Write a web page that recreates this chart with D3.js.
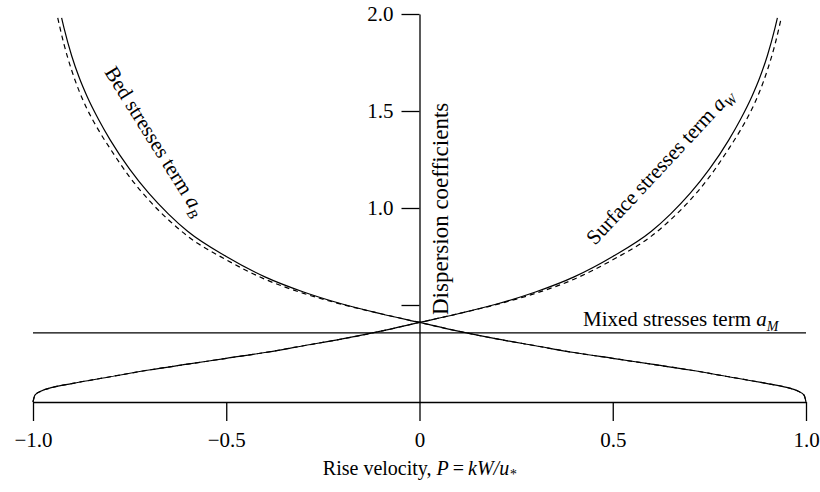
<!DOCTYPE html>
<html>
<head>
<meta charset="utf-8">
<script src="https://cdn.jsdelivr.net/npm/d3@7"></script>
<style>
  body { margin: 0; background: #fff; }
  svg { display: block; font-family: "Liberation Serif", "DejaVu Serif", serif; }
</style>
</head>
<body>
<div id="chart"></div>
<script>
// values
var surfP     = [-1, -0.995, -0.98, -0.95, -0.9, -0.8, -0.7, -0.6, -0.5, -0.4, -0.3, -0.2, -0.1, 0, 0.1, 0.2, 0.3, 0.4, 0.5, 0.6, 0.65, 0.7, 0.75, 0.8, 0.83, 0.86, 0.88, 0.9, 0.92, 0.926];
var surfSolid = [0, 0.035, 0.055, 0.075, 0.095, 0.13, 0.165, 0.195, 0.225, 0.255, 0.29, 0.325, 0.365, 0.41, 0.455, 0.505, 0.567, 0.645, 0.75, 0.88, 0.97, 1.075, 1.2, 1.35, 1.455, 1.575, 1.67, 1.785, 1.93, 1.98];
var surfDashP = [-1, -0.995, -0.98, -0.95, -0.9, -0.8, -0.7, -0.6, -0.5, -0.4, -0.3, -0.2, -0.1, 0, 0.1, 0.2, 0.3, 0.4, 0.5, 0.6, 0.65, 0.7, 0.75, 0.8, 0.83, 0.86, 0.88, 0.9, 0.92, 0.936];
var surfDash  = [0, 0.035, 0.055, 0.075, 0.095, 0.13, 0.165, 0.195, 0.225, 0.255, 0.29, 0.325, 0.365, 0.41, 0.455, 0.503, 0.56, 0.633, 0.733, 0.855, 0.94, 1.04, 1.16, 1.305, 1.4, 1.51, 1.6, 1.71, 1.845, 1.98];

var bedP      = [-0.926, -0.92, -0.9, -0.88, -0.86, -0.83, -0.8, -0.75, -0.7, -0.65, -0.6, -0.5, -0.4, -0.3, -0.2, -0.1, 0, 0.1, 0.2, 0.3, 0.4, 0.5, 0.6, 0.7, 0.8, 0.9, 0.95, 0.98, 0.995, 1];
var bedSolid  = [1.98, 1.93, 1.785, 1.67, 1.575, 1.455, 1.35, 1.2, 1.075, 0.97, 0.88, 0.75, 0.645, 0.567, 0.505, 0.455, 0.41, 0.365, 0.325, 0.29, 0.255, 0.225, 0.195, 0.165, 0.13, 0.095, 0.075, 0.055, 0.035, 0];
var bedDashP  = [-0.936, -0.92, -0.9, -0.88, -0.86, -0.83, -0.8, -0.75, -0.7, -0.65, -0.6, -0.5, -0.4, -0.3, -0.2, -0.1, 0, 0.1, 0.2, 0.3, 0.4, 0.5, 0.6, 0.7, 0.8, 0.9, 0.95, 0.98, 0.995, 1];
var bedDash   = [1.98, 1.845, 1.71, 1.6, 1.51, 1.4, 1.305, 1.16, 1.04, 0.94, 0.855, 0.733, 0.633, 0.56, 0.503, 0.455, 0.41, 0.365, 0.325, 0.29, 0.255, 0.225, 0.195, 0.165, 0.13, 0.095, 0.075, 0.055, 0.035, 0];

var mixedP = [-1, 1];
var mixedValue = [0.356, 0.356];

var xTicks = [-1, -0.5, 0, 0.5, 1];
var xTickLabels = ["\u22121.0", "\u22120.5", "0", "0.5", "1.0"];
var yTicks = [0.5, 1, 1.5, 2];
var yTickLabels = ["", "1.0", "1.5", "2.0"];

var width = 820, height = 492;

var svg = d3.select('#chart').append('svg')
  .attr('width', width)
  .attr('height', height);

var x = d3.scaleLinear().domain([-1, 1]).range([33, 806]);
var y = d3.scaleLinear().domain([0, 2]).range([402, 14]);

function pairs(xs, ys) {
  return xs.map(function(v, i) { return [v, ys[i]]; });
}

var line = d3.line()
  .x(function(d) { return x(d[0]); })
  .y(function(d) { return y(d[1]); })
  .curve(d3.curveMonotoneX);

// x axis (drawn at y = 0)
var xAxis = d3.axisBottom(x)
  .tickValues(xTicks)
  .tickSize(19)
  .tickSizeOuter(0)
  .tickPadding(5)
  .tickFormat(function(d, i) { return xTickLabels[i]; });

var gx = svg.append('g')
  .attr('transform', 'translate(0,' + y(0) + ')')
  .call(xAxis);

// y axis through P = 0
var yAxis = d3.axisLeft(y)
  .tickValues(yTicks)
  .tickSize(18)
  .tickSizeOuter(0)
  .tickPadding(8)
  .tickFormat(function(d, i) { return yTickLabels[i]; });

var gy = svg.append('g')
  .attr('transform', 'translate(' + x(0) + ',0)')
  .call(yAxis);

svg.selectAll('.domain, .tick line')
  .attr('stroke', '#000')
  .attr('stroke-width', 1.3);
svg.selectAll('.tick text')
  .attr('fill', '#000')
  .style('font-size', '21px')
  .style('font-family', '"Liberation Serif", serif');
gx.selectAll('.tick text').attr('dy', '1em');
gy.selectAll('.tick text').attr('dy', '0.32em');

// curves
var curves = [
  {data: pairs(surfP, surfSolid), dash: null},
  {data: pairs(surfDashP, surfDash), dash: '5,4'},
  {data: pairs(bedP, bedSolid), dash: null},
  {data: pairs(bedDashP, bedDash), dash: '5,4'},
  {data: pairs(mixedP, mixedValue), dash: null}
];

svg.selectAll('.curve')
  .data(curves)
  .enter()
  .append('path')
  .attr('class', 'curve')
  .attr('d', function(d) { return line(d.data); })
  .attr('fill', 'none')
  .attr('stroke', '#000')
  .attr('stroke-width', 1.2)
  .attr('stroke-dasharray', function(d) { return d.dash; });

// labels
function termLabel(g, text, sub) {
  var t = g.append('text').style('font-size', '21px');
  t.append('tspan').text(text + ' ');
  t.append('tspan').style('font-style', 'italic').text('a');
  t.append('tspan').attr('dy', 5).style('font-size', '14px').style('font-style', 'italic').text(sub);
  return t;
}

termLabel(svg.append('g').attr('transform', 'translate(104,72) rotate(58)'), 'Bed stresses term', 'B');
termLabel(svg.append('g').attr('transform', 'translate(595,246) rotate(-47)'), 'Surface stresses term', 'W');
termLabel(svg.append('g').attr('transform', 'translate(583,326)'), 'Mixed stresses term', 'M');

svg.append('text')
  .attr('transform', 'translate(448,315) rotate(-90)')
  .style('font-size', '23px')
  .text('Dispersion coefficients');

var xl = svg.append('text')
  .attr('x', x(0))
  .attr('y', 475)
  .attr('text-anchor', 'middle')
  .style('font-size', '20px');
xl.append('tspan').text('Rise velocity, ');
xl.append('tspan').style('font-style', 'italic').text('P');
xl.append('tspan').text('\u2009=\u2009');
xl.append('tspan').style('font-style', 'italic').text('kW/u');
xl.append('tspan').attr('dy', 4).style('font-size', '14px').style('font-style', 'italic').text('*');
</script>
</body>
</html>
